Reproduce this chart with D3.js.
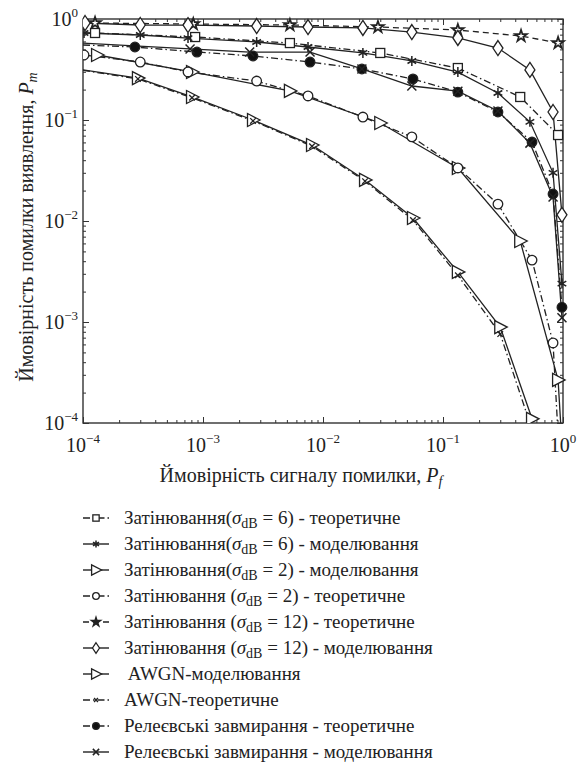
<!DOCTYPE html>
<html>
<head>
<meta charset="utf-8">
<script src="https://cdn.jsdelivr.net/npm/d3@7"></script>
<style>
  body { margin: 0; background: #fff; }
</style>
</head>
<body>
<svg id="chart" width="587" height="764"></svg>
<script>
// values (Pf on x, Pm on y)
const pfShadow6Theory = [1e-4, 1.26e-4, 8.6e-4, 5.3e-3, 0.03, 0.133, 0.44, 0.91];
const pmShadow6Theory = [0.73, 0.727, 0.663, 0.578, 0.461, 0.327, 0.169, 0.071];

const pfShadow6Sim = [1.02e-4, 3.0e-4, 7.5e-4, 2.8e-3, 7.5e-3, 0.0215, 0.055, 0.133, 0.287, 0.53, 0.826, 0.98];
const pmShadow6Sim = [0.727, 0.694, 0.648, 0.592, 0.528, 0.461, 0.384, 0.298, 0.185, 0.096, 0.030, 0.0024];

const pfShadow2Sim = [1.31e-4, 8.1e-4, 5.3e-3, 0.03, 0.133, 0.44, 0.91, 0.99];
const pmShadow2Sim = [0.44, 0.299, 0.194, 0.0934, 0.0335, 0.00634, 2.67e-4, 5e-5];

const pfShadow2Theory = [1.02e-4, 3.0e-4, 7.5e-4, 2.8e-3, 7.5e-3, 0.0215, 0.055, 0.133, 0.287, 0.552, 0.826, 0.92];
const pmShadow2Theory = [0.44, 0.375, 0.299, 0.243, 0.173, 0.107, 0.068, 0.0335, 0.0147, 0.0041, 6.2e-4, 6e-5];

const pfShadow12Theory = [1e-4, 1.26e-4, 8.3e-4, 5.3e-3, 0.0287, 0.133, 0.447, 0.91];
const pmShadow12Theory = [0.92, 0.913, 0.892, 0.872, 0.833, 0.778, 0.679, 0.579];

const pfShadow12Sim = [1.04e-4, 3.0e-4, 7.5e-4, 2.8e-3, 7.5e-3, 0.0215, 0.055, 0.133, 0.287, 0.53, 0.826, 0.98];
const pmShadow12Sim = [0.913, 0.872, 0.87, 0.852, 0.833, 0.815, 0.743, 0.649, 0.516, 0.313, 0.12, 0.0115];

const pfAwgnSim = [1e-4, 2.87e-4, 8.1e-4, 2.61e-3, 8.1e-3, 0.0224, 0.0562, 0.133, 0.3, 0.552];
const pmAwgnSim = [0.313, 0.26, 0.169, 0.1, 0.0565, 0.0255, 0.0107, 0.00313, 8.9e-4, 1.1e-4];

const pfAwgnTheory = [1e-4, 2.87e-4, 8.1e-4, 2.61e-3, 8.1e-3, 0.0224, 0.0562, 0.133, 0.3, 0.545];
const pmAwgnTheory = [0.31, 0.255, 0.166, 0.098, 0.055, 0.0248, 0.0102, 0.0029, 7.6e-4, 9e-5];

const pfRayleighTheory = [1e-4, 2.71e-4, 8.9e-4, 2.61e-3, 7.8e-3, 0.0211, 0.0562, 0.133, 0.287, 0.552, 0.826, 0.98];
const pmRayleighTheory = [0.553, 0.528, 0.471, 0.43, 0.375, 0.32, 0.255, 0.189, 0.12, 0.0605, 0.0185, 0.0014];

const pfRayleighSim = [1e-4, 7.8e-4, 2.45e-3, 7.8e-3, 0.0211, 0.055, 0.133, 0.287, 0.53, 0.826, 0.98];
const pmRayleighSim = [0.578, 0.505, 0.471, 0.471, 0.32, 0.217, 0.193, 0.123, 0.059, 0.0173, 0.0011];

const majorTicks = [1e-4, 1e-3, 1e-2, 1e-1, 1];
const tickExponents = ["−4", "−3", "−2", "−1", "0"];

const legendLabels = [
    "Затінювання(σ_dB = 6) - теоретичне",
    "Затінювання(σ_dB = 6) - моделювання",
    "Затінювання(σ_dB = 2) - моделювання",
    "Затінювання (σ_dB = 2) - теоретичне",
    "Затінювання (σ_dB = 12) - теоретичне",
    "Затінювання (σ_dB = 12) - моделювання",
    " AWGN-моделювання",
    "AWGN-теоретичне",
    "Релеєвські завмирання - теоретичне",
    "Релеєвські завмирання - моделювання"
];

const series = [
    {pf: pfShadow6Theory, pm: pmShadow6Theory, dash: "dashdot", marker: "square"},
    {pf: pfShadow6Sim, pm: pmShadow6Sim, dash: "solid", marker: "asterisk"},
    {pf: pfShadow2Sim, pm: pmShadow2Sim, dash: "solid", marker: "triangle"},
    {pf: pfShadow2Theory, pm: pmShadow2Theory, dash: "dashdot", marker: "circle"},
    {pf: pfShadow12Theory, pm: pmShadow12Theory, dash: "dashed", marker: "star"},
    {pf: pfShadow12Sim, pm: pmShadow12Sim, dash: "solid", marker: "diamond"},
    {pf: pfAwgnSim, pm: pmAwgnSim, dash: "solid", marker: "triangle"},
    {pf: pfAwgnTheory, pm: pmAwgnTheory, dash: "dashdot", marker: "smallx"},
    {pf: pfRayleighTheory, pm: pmRayleighTheory, dash: "dashdot", marker: "dot"},
    {pf: pfRayleighSim, pm: pmRayleighSim, dash: "solid", marker: "cross"}
];

const ink = "#222";
const serif = "'Liberation Serif', 'Times New Roman', 'DejaVu Serif', serif";
const dashes = {solid: null, dashed: "6,4", dashdot: "7,3,1.5,3"};

let svg = d3.select("#chart").attr("font-family", serif);
let plot = {left: 83, top: 19, right: 563, bottom: 423};

let x = d3.scaleLog().domain([1e-4, 1]).range([plot.left, plot.right]);
let y = d3.scaleLog().domain([1e-4, 1]).range([plot.bottom, plot.top]);

let isMajor = d => majorTicks.some(m => Math.abs(m - d) / m < 1e-6);
let minorX = x.ticks().filter(d => !isMajor(d));
let minorY = y.ticks().filter(d => !isMajor(d));

// box axes with inward ticks
function addAxis(axisFn, scale, minors, translate) {
    let g = svg.append("g").attr("transform", translate);
    g.call(axisFn(scale).tickValues(majorTicks).tickSize(-6).tickFormat(""));
    g.append("g").call(axisFn(scale).tickValues(minors).tickSize(-3).tickFormat(""));
    g.selectAll(".domain").remove();
    g.selectAll("line").attr("stroke", "#333").attr("stroke-width", 1);
}
addAxis(d3.axisBottom, x, minorX, `translate(0,${plot.bottom})`);
addAxis(d3.axisTop, x, minorX, `translate(0,${plot.top})`);
addAxis(d3.axisLeft, y, minorY, `translate(${plot.left},0)`);
addAxis(d3.axisRight, y, minorY, `translate(${plot.right},0)`);

svg.append("rect")
    .attr("x", plot.left).attr("y", plot.top)
    .attr("width", plot.right - plot.left).attr("height", plot.bottom - plot.top)
    .attr("fill", "none").attr("stroke", "#333").attr("stroke-width", 1.4);

// tick labels 10^k
majorTicks.forEach((d, i) => {
    let t = svg.append("text")
        .attr("x", x(d)).attr("y", plot.bottom + 29)
        .attr("text-anchor", "middle").attr("font-size", 20).attr("fill", ink);
    t.append("tspan").text("10");
    t.append("tspan").attr("dy", -9).attr("font-size", 13).text(tickExponents[i]);

    let ty = svg.append("text")
        .attr("x", plot.left - 5).attr("y", y(d) + 7)
        .attr("text-anchor", "end").attr("font-size", 20).attr("fill", ink);
    ty.append("tspan").text("10");
    ty.append("tspan").attr("dy", -9).attr("font-size", 13).text(tickExponents[i]);
});

// axis titles
let xTitle = svg.append("text")
    .attr("x", 301).attr("y", 482)
    .attr("text-anchor", "middle").attr("font-size", 20).attr("fill", ink);
xTitle.append("tspan").text("Ймовірність сигналу помилки, ");
xTitle.append("tspan").attr("font-style", "italic").text("P");
xTitle.append("tspan").attr("font-style", "italic").attr("font-size", 14).attr("dy", 4).text("f");

let yTitle = svg.append("text")
    .attr("transform", "translate(33,227) rotate(-90)")
    .attr("text-anchor", "middle").attr("font-size", 20).attr("fill", ink);
yTitle.append("tspan").text("Ймовірність помилки виявлення, ");
yTitle.append("tspan").attr("font-style", "italic").text("P");
yTitle.append("tspan").attr("font-style", "italic").attr("font-size", 14).attr("dy", 4).text("m");

// markers
function drawMarker(g, kind, s) {
    let style = {fill: "#fff", stroke: ink, "stroke-width": 1.3};
    let m;
    if (kind === "square") {
        m = g.append("rect").attr("x", -4.5 * s).attr("y", -4.5 * s).attr("width", 9 * s).attr("height", 9 * s);
    } else if (kind === "circle") {
        m = g.append("circle").attr("r", 4.8 * s);
    } else if (kind === "dot") {
        m = g.append("circle").attr("r", 4.8 * s);
        style.fill = "#111";
    } else if (kind === "diamond") {
        m = g.append("path").attr("d", `M0,${-7.5 * s}L${5 * s},0L0,${7.5 * s}L${-5 * s},0Z`);
    } else if (kind === "triangle") {
        m = g.append("path").attr("d", `M${-5.5 * s},${-6.5 * s}L${7 * s},0L${-5.5 * s},${6.5 * s}Z`);
    } else if (kind === "star") {
        m = g.append("path").attr("d", d3.symbol(d3.symbolStar, 42 * s * s)());
        style["stroke-width"] = 1.7;
        if (s < 1) style.fill = ink;
    } else if (kind === "asterisk") {
        let r = 5 * s, a = r * 0.866, b = r * 0.5;
        m = g.append("path").attr("d", `M0,${-r}V${r}M${-a},${-b}L${a},${b}M${-a},${b}L${a},${-b}`);
        style["stroke-width"] = 1.5;
    } else if (kind === "smallx") {
        let r = 2.8 * s;
        m = g.append("path").attr("d", `M${-r},${-r}L${r},${r}M${-r},${r}L${r},${-r}`);
    } else if (kind === "cross") {
        let r = 4.5 * s;
        m = g.append("path").attr("d", `M${-r},${-r}L${r},${r}M${-r},${r}L${r},${-r}`);
        style["stroke-width"] = 1.5;
    }
    Object.entries(style).forEach(([k, v]) => m.attr(k, v));
    return m;
}

svg.append("clipPath").attr("id", "plotClip")
    .append("rect")
    .attr("x", plot.left).attr("y", plot.top - 8)
    .attr("width", plot.right - plot.left + 8).attr("height", plot.bottom - plot.top + 8);

let dataLayer = svg.append("g").attr("clip-path", "url(#plotClip)");
let line = d3.line().x(d => x(d[0])).y(d => y(d[1]));

series.forEach(s => {
    let pts = s.pf.map((p, i) => [p, s.pm[i]]);
    dataLayer.append("path")
        .attr("d", line(pts))
        .attr("fill", "none")
        .attr("stroke", ink)
        .attr("stroke-width", 1.3)
        .attr("stroke-dasharray", dashes[s.dash]);
});
series.forEach(s => {
    s.pf.forEach((p, i) => {
        if (p <= 1.01e-4) return;   // lines that start on the axis have no mark there
        let g = dataLayer.append("g").attr("transform", `translate(${x(p)},${y(s.pm[i])})`);
        drawMarker(g, s.marker, 1);
    });
});

// legend
let legendTop = 518, legendStep = 26;
series.forEach((s, i) => {
    let cy = legendTop + i * legendStep;
    let g = svg.append("g");
    g.append("line")
        .attr("x1", 83).attr("x2", 109).attr("y1", cy).attr("y2", cy)
        .attr("stroke", ink).attr("stroke-width", 1.4)
        .attr("stroke-dasharray", dashes[s.dash]);
    let mg = g.append("g").attr("transform", `translate(96,${cy})`);
    drawMarker(mg, s.marker, s.marker === "triangle" ? 0.8 : 0.7);

    let parts = legendLabels[i].split("σ_dB");
    let t = g.append("text")
        .attr("x", 124).attr("y", cy + 6)
        .attr("font-size", 19).attr("fill", ink)
        .attr("xml:space", "preserve");
    t.append("tspan").text(parts[0]);
    if (parts.length > 1) {
        t.append("tspan").attr("font-style", "italic").text("σ");
        t.append("tspan").attr("font-size", 14).attr("dy", 4).text("dB");
        t.append("tspan").attr("dy", -4).text(parts[1]);
    }
});
</script>
</body>
</html>
